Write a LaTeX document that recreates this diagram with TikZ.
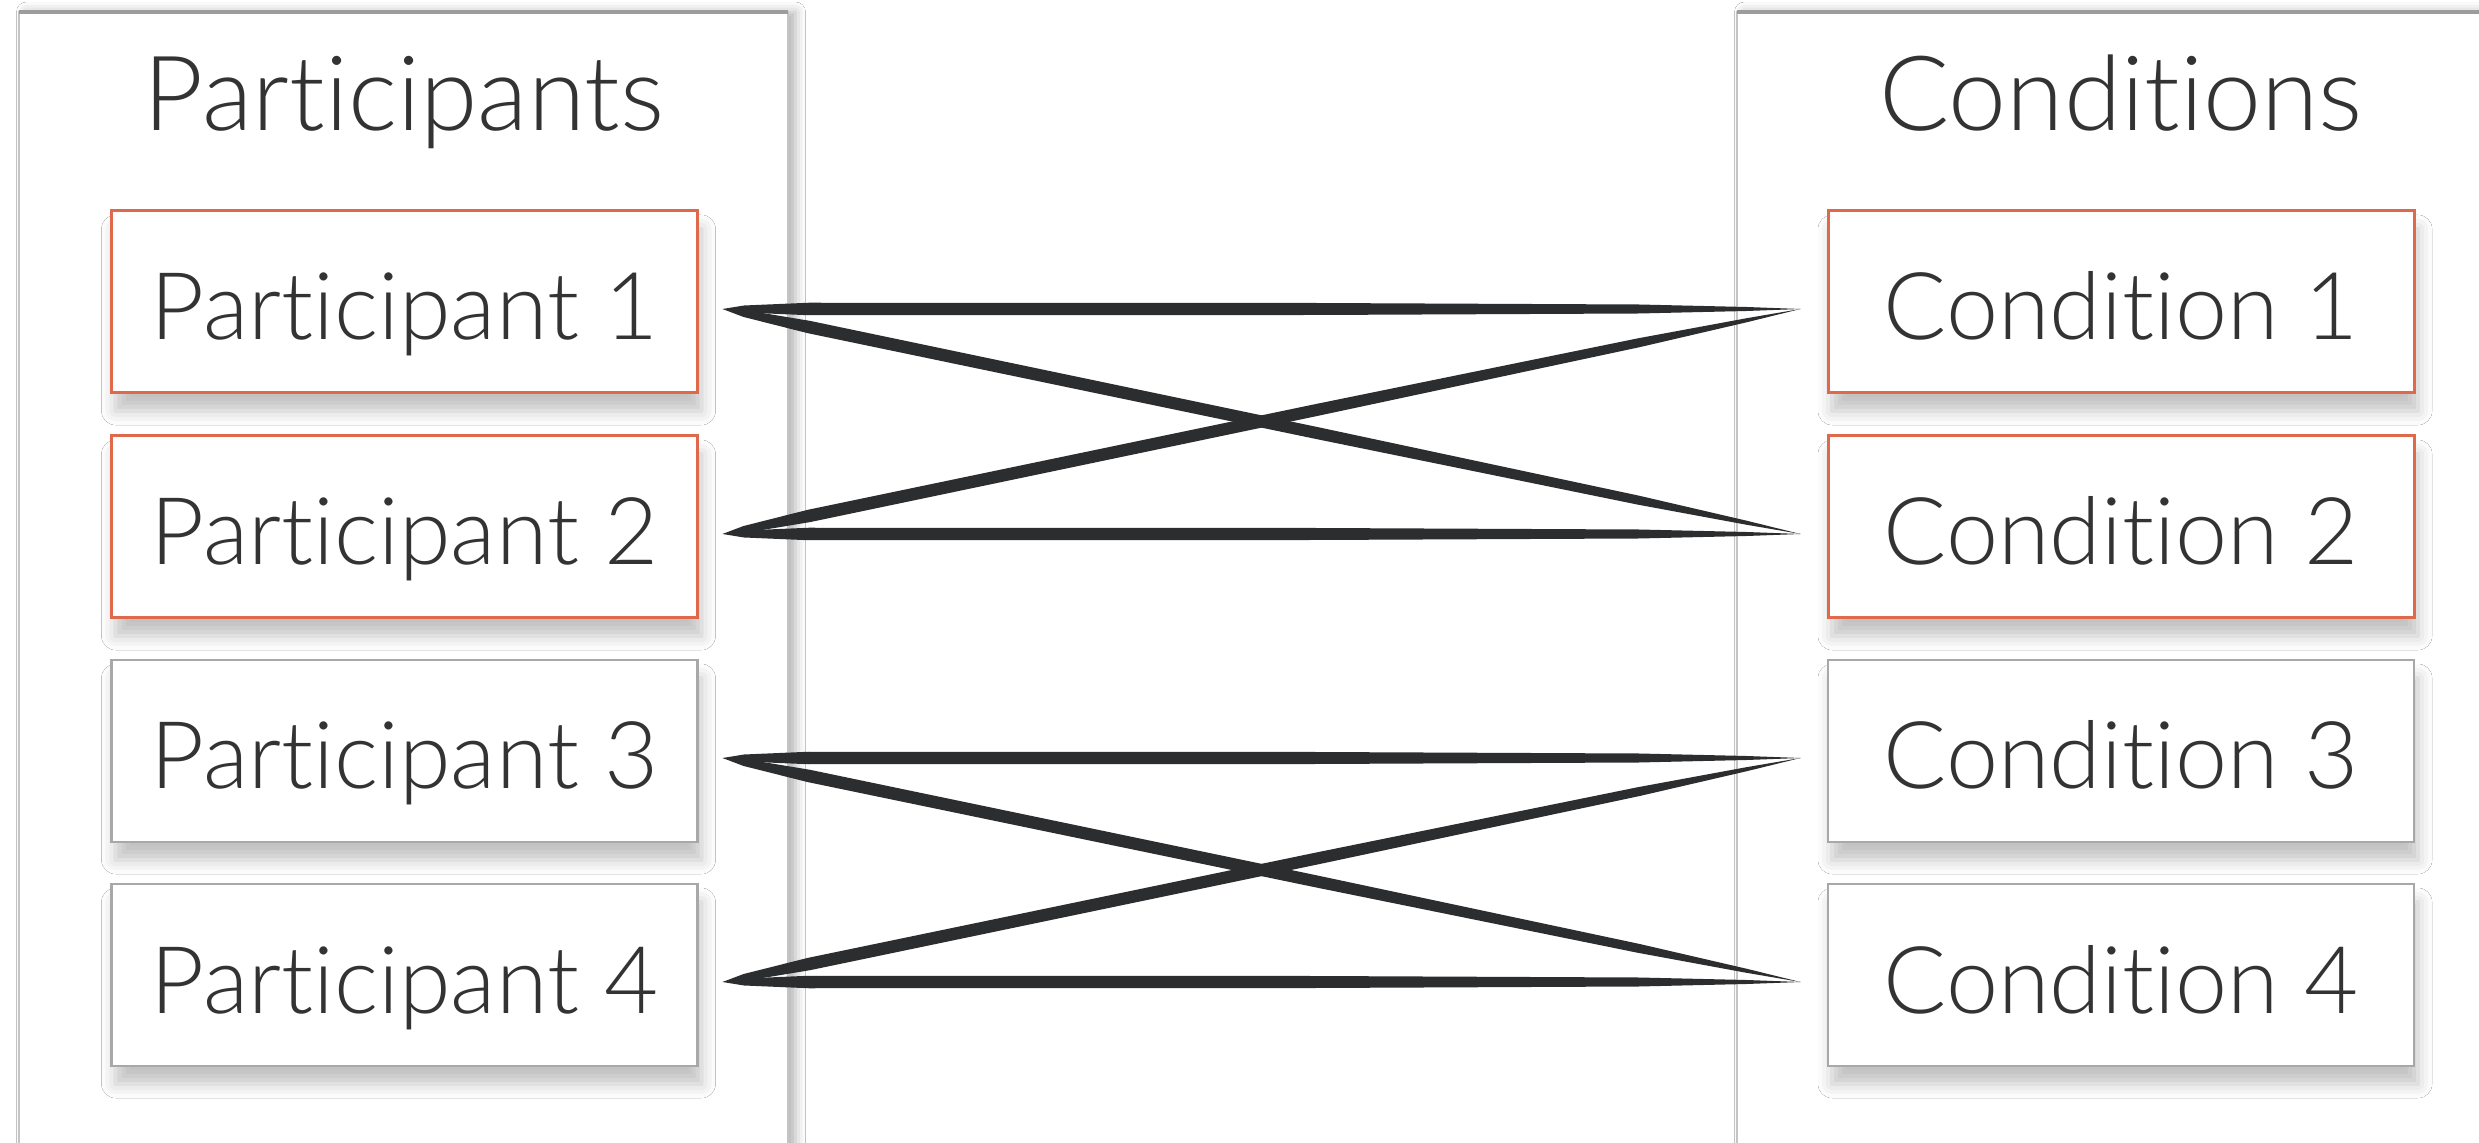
\documentclass[tikz,border=0pt]{standalone}
\usepackage{fontspec}
\IfFontExistsTF{Lato Light}{\setmainfont{Lato Light}[Ligatures={NoCommon}]}{\setmainfont{Lato}[Ligatures={NoCommon}]}
\usetikzlibrary{calc,shadows.blur}
\definecolor{txtcol}{HTML}{333333}
\definecolor{linecol}{HTML}{2B2D2F}
\definecolor{hot}{HTML}{E0694B}
\definecolor{boxgray}{HTML}{A8A8A8}
\definecolor{panelgray}{HTML}{C4C4C4}
\definecolor{paneltop}{HTML}{9C9C9C}
\newcommand\brushstroke[2]{%
  \fill[linecol] (#1)
    -- ($(#1)!0.02!(#2)!0.7pt!90:(#2)$)
    -- ($(#1)!0.08!(#2)!1.25pt!90:(#2)$)
    -- ($(#1)!0.55!(#2)!1.2pt!90:(#2)$)
    -- ($(#1)!0.85!(#2)!0.9pt!90:(#2)$)
    -- ($(#1)!0.95!(#2)!0.4pt!90:(#2)$)
    -- (#2)
    -- ($(#1)!0.95!(#2)!0.4pt!-90:(#2)$)
    -- ($(#1)!0.85!(#2)!0.9pt!-90:(#2)$)
    -- ($(#1)!0.55!(#2)!1.2pt!-90:(#2)$)
    -- ($(#1)!0.08!(#2)!1.25pt!-90:(#2)$)
    -- ($(#1)!0.02!(#2)!0.7pt!-90:(#2)$)
    -- cycle;}
\tikzset{
  boxfont/.style={font=\fontsize{18.7}{22}\selectfont, text=txtcol},
  titlefont/.style={font=\fontsize{20.8}{24}\selectfont, text=txtcol},
  pbox/.style={boxfont, fill=white, minimum width=117.2pt, minimum height=36.4pt,
    inner sep=0pt, outer xsep=5pt, text height=15.2pt, text depth=0pt,
    blur shadow={shadow xshift=0.8pt, shadow yshift=-3.6pt, shadow blur radius=2.8pt, shadow opacity=24}},
  hotbox/.style={pbox, draw=hot, line width=0.6pt},
  coolbox/.style={pbox, draw=boxgray, line width=0.5pt},
  panel/.style={draw=panelgray, line width=0.5pt, fill=white,
    blur shadow={shadow xshift=1.5pt, shadow yshift=0pt, shadow blur radius=2pt, shadow opacity=30}},
  title/.style={titlefont, anchor=base, inner sep=0pt}
}
\begin{document}
\begin{tikzpicture}[x=0.2pt, y=-0.2pt]
\useasboundingbox (0,0) rectangle (2479,1143);
\clip (0,0) rectangle (2479,1143);
\fill[white] (0,0) rectangle (2479,1143);
% panels
\path[panel] (19,12) rectangle (788,1200);
\path[panel] (1737,12) rectangle (2560,1200);
\draw[paneltop, line width=0.8pt] (19,12) -- (788,12);
\draw[paneltop, line width=0.8pt] (1737,12) -- (2479,12);
% titles
\node[title] (ptitle) at (404,131) {Participants};
\node[title] (ctitle) at (2121,131) {Conditions};
% boxes
\node[hotbox]  (p1) at (404.5,302) {Participant 1};
\node[hotbox]  (p2) at (404.5,527) {Participant 2};
\node[coolbox] (p3) at (404.5,751) {Participant 3};
\node[coolbox] (p4) at (404.5,975) {Participant 4};
\node[hotbox]  (c1) at (2121,302) {Condition 1};
\node[hotbox]  (c2) at (2121,527) {Condition 2};
\node[coolbox] (c3) at (2121,751) {Condition 3};
\node[coolbox] (c4) at (2121,975) {Condition 4};
% connector ends
\foreach \i in {1,2,3,4}{
  \coordinate (p\i r) at ([yshift=-1.4pt]p\i.east);
  \coordinate (c\i l) at ([xshift=-0.5pt,yshift=-1.4pt]c\i.west);
}
% connectors
\brushstroke{p1r}{c1l}
\brushstroke{p1r}{c2l}
\brushstroke{p2r}{c1l}
\brushstroke{p2r}{c2l}
\brushstroke{p3r}{c3l}
\brushstroke{p3r}{c4l}
\brushstroke{p4r}{c3l}
\brushstroke{p4r}{c4l}
\end{tikzpicture}
\end{document}
